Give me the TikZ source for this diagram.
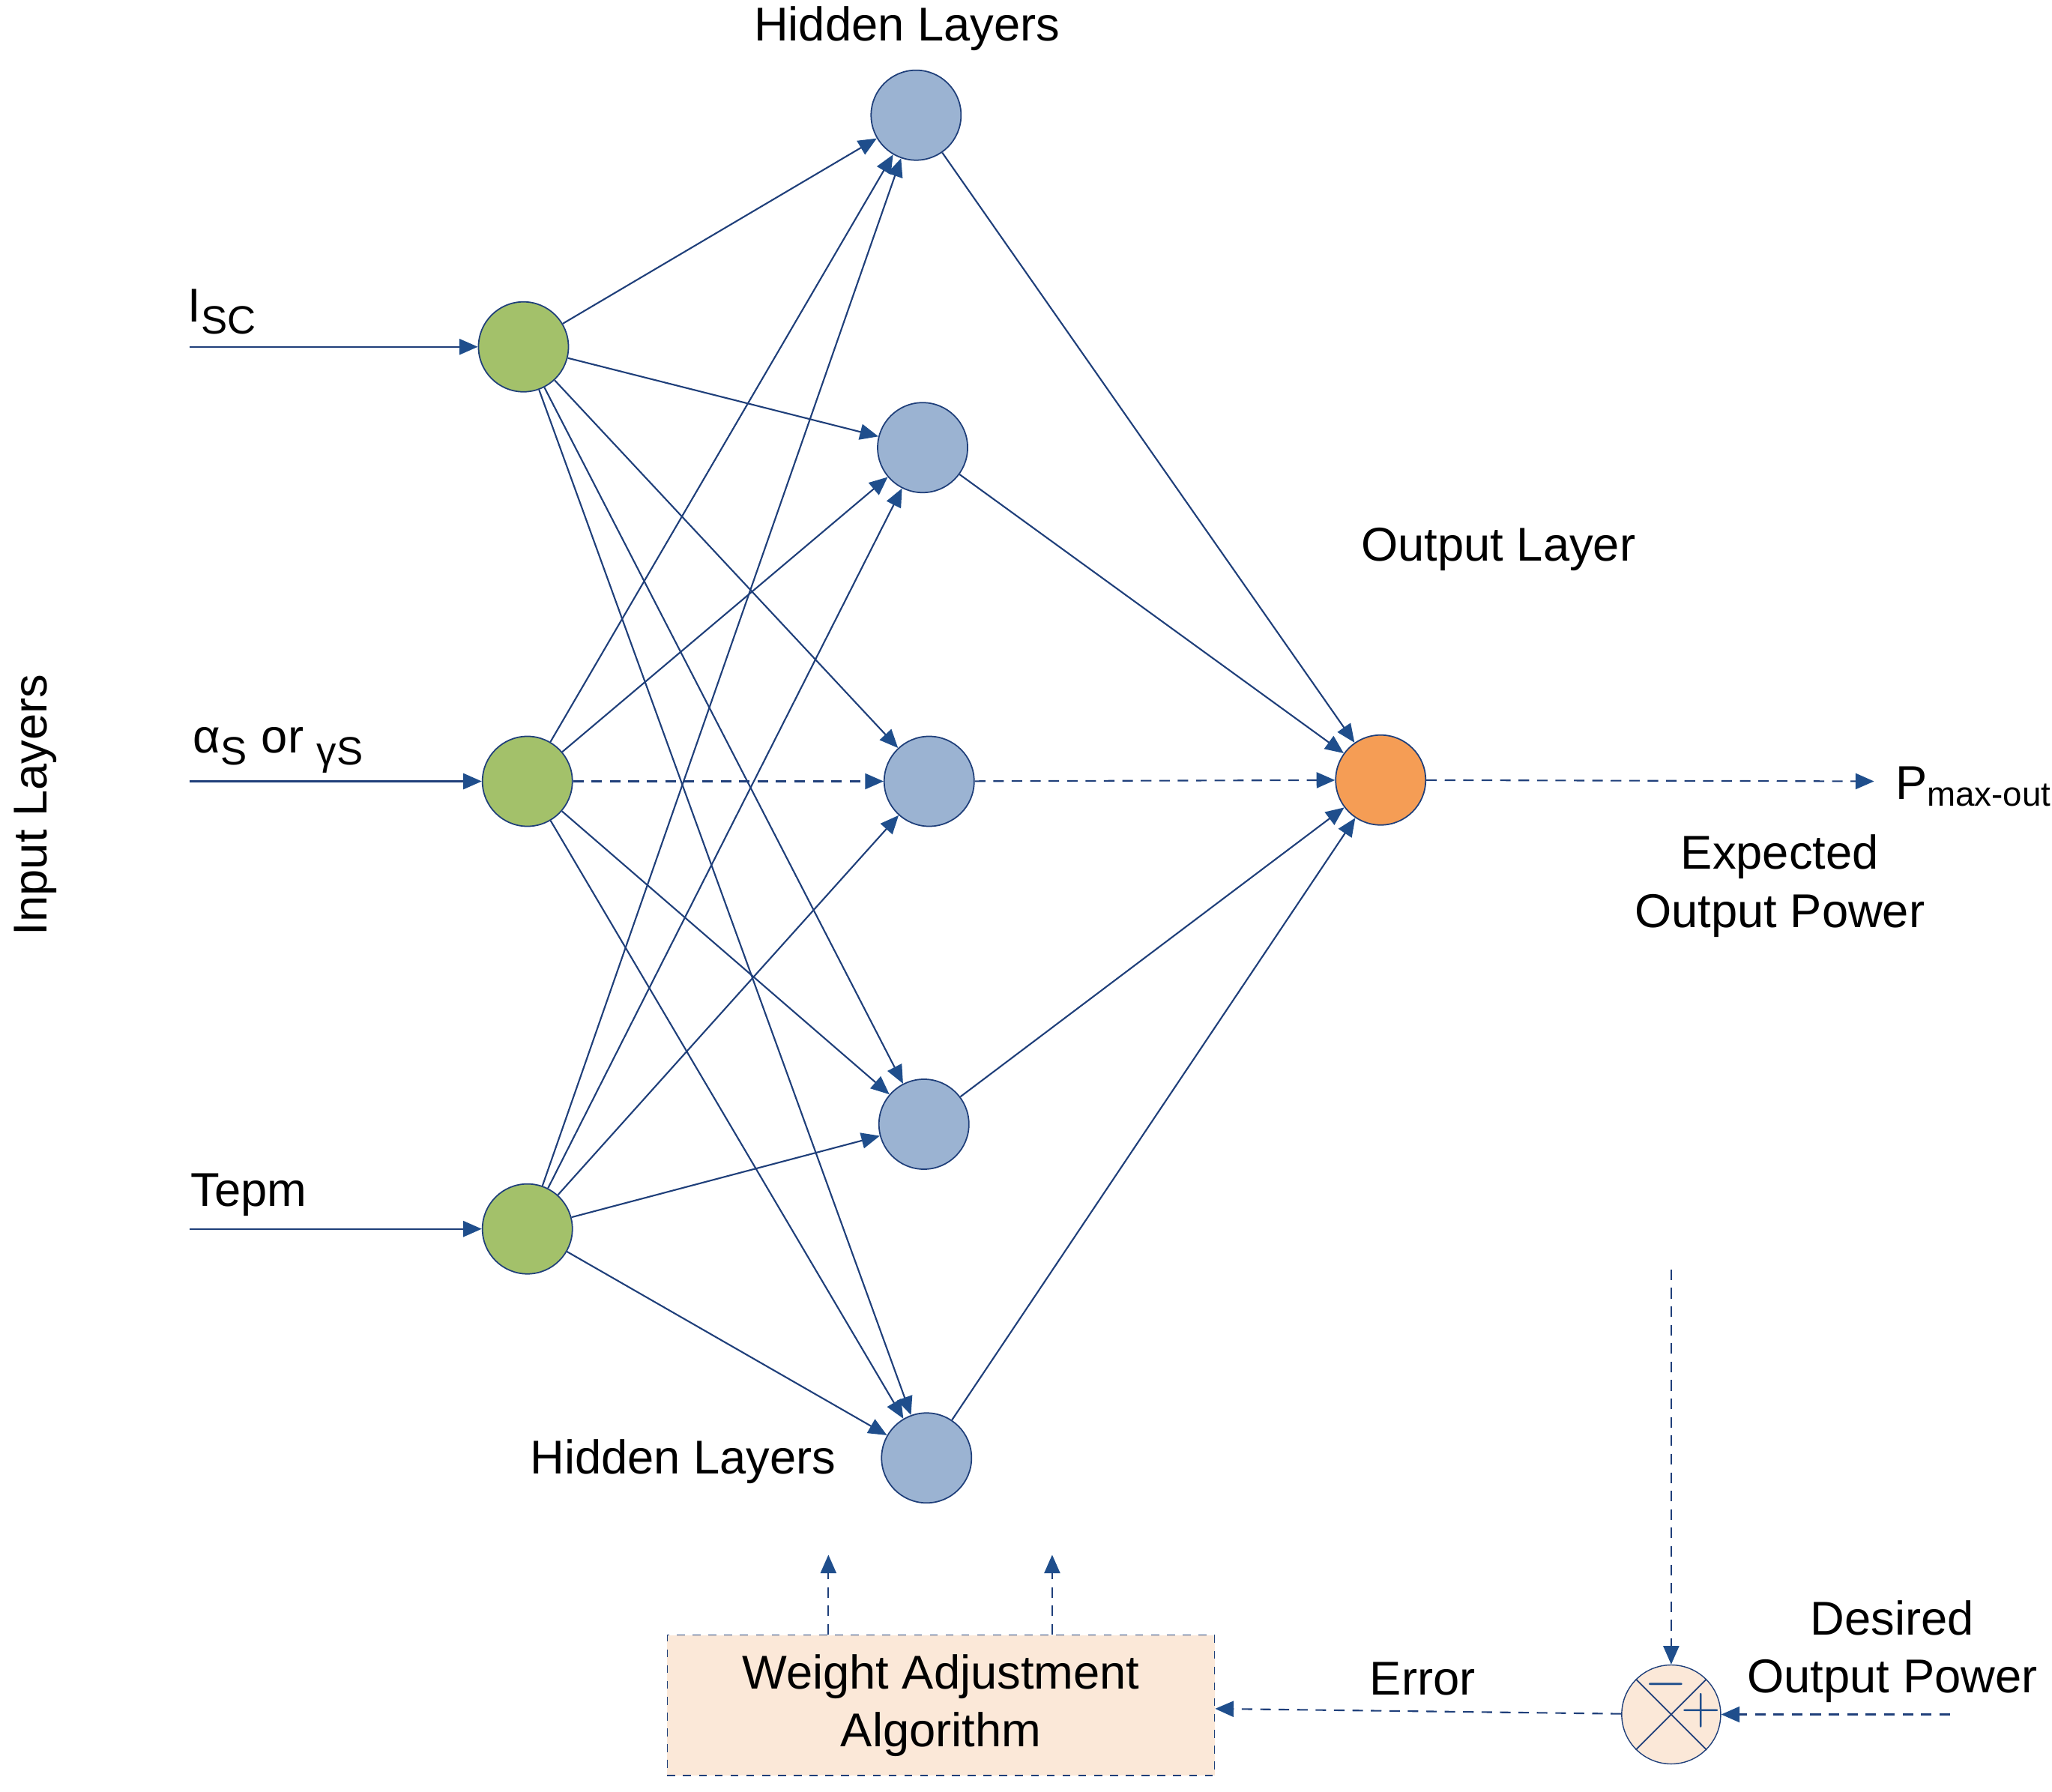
\documentclass[tikz,border=0pt]{standalone}
\usepackage{fontspec}
\setmainfont{Liberation Sans}
\usetikzlibrary{arrows.meta}
\definecolor{ln}{HTML}{1F3F7A}
\definecolor{tip}{HTML}{1F4E8C}
\definecolor{grn}{HTML}{A3C16A}
\definecolor{blu}{HTML}{9BB3D2}
\definecolor{org}{HTML}{F59D55}
\definecolor{pch}{HTML}{FBE8D8}
\begin{document}
\begin{tikzpicture}[x=0.017462cm,y=-0.017462cm,
  every node/.style={font=\fontsize{18}{22}\selectfont},
  neu/.style={circle,draw=ln,line width=0.5pt,minimum size=1.2cm,inner sep=0pt},
  con/.style={draw=ln,line width=0.6pt,-{Triangle[length=7pt,width=6pt,color=tip]}},
  dcon/.style={con,dashed,dash pattern=on 4pt off 3pt},
  lab/.style={inner sep=0pt,align=center}]
\useasboundingbox (0,0) rectangle (1568,1369);
\node[neu,fill=grn] (I1) at (400,265) {};
\node[neu,fill=grn] (I2) at (403,597) {};
\node[neu,fill=grn] (I3) at (403,939) {};
\node[neu,fill=blu] (H1) at (700,88) {};
\node[neu,fill=blu] (H2) at (705,342) {};
\node[neu,fill=blu] (H3) at (710,597) {};
\node[neu,fill=blu] (H4) at (706,859) {};
\node[neu,fill=blu] (H5) at (708,1114) {};
\node[neu,fill=org] (O) at (1055,596) {};
\node[circle,draw=ln,fill=pch,minimum size=1.32cm,inner sep=0pt] (S) at (1277,1310) {};
\draw[ln,line width=0.5pt] (S.north west)--(S.south east) (S.north east)--(S.south west);
\node[text=tip,font=\bfseries\fontsize{20}{22}\selectfont] at (1273,1287) {$\mathbf{-}$};
\node[text=tip,font=\bfseries\fontsize{20}{22}\selectfont] at (1300,1307) {$\mathbf{+}$};
\node[draw=ln,dashed,fill=pch,minimum width=7.3cm,minimum height=1.87cm,lab] (B) at (719,1303) {Weight Adjustment\\Algorithm};
\coordinate (a1) at (145,265); \coordinate (a2) at (145,597); \coordinate (a3) at (145,939);
\draw[con] (a1)--(I1); \draw[con] (a2)--(I2); \draw[con] (a3)--(I3);
\foreach \i in {I1,I3}{\foreach \h in {H1,H2,H3,H4,H5}{\draw[con] (\i)--(\h);}}
\foreach \h in {H1,H2,H4,H5}{\draw[con] (I2)--(\h); \draw[con] (\h)--(O);}
\draw[dcon] (I2)--(H3); \draw[dcon] (H3)--(O);
\coordinate (pe) at (1432,597);
\draw[dcon] (O)--(pe);
\node[lab,anchor=west] at (1448,601) {P\textsubscript{\fontsize{13}{13}\selectfont max-out}};
\coordinate (dv) at (1277,970); \draw[dcon] (dv)--(S);
\coordinate (dr) at (1490,1310); \draw[dcon] (dr)--(S);
\draw[dcon] (S)--(B);
\coordinate (u1) at (633,1188); \coordinate (u2) at (804,1188);
\draw[dcon] (B.north -| u1)--(u1); \draw[dcon] (B.north -| u2)--(u2);
\node[lab] at (170,238) {I\textsubscript{\fontsize{15}{15}\selectfont SC}};
\node[lab] at (213,573) {α\textsubscript{\fontsize{15}{15}\selectfont S} or \textsubscript{\fontsize{15}{15}\selectfont γS}};
\node[lab] at (190,913) {Tepm};
\node[lab,rotate=90] at (27,615) {Input Layers};
\node[lab] at (693,22) {Hidden Layers};
\node[lab] at (522,1117) {Hidden Layers};
\node[lab] at (1145,420) {Output Layer};
\node[lab] at (1360,677) {Expected\\Output Power};
\node[lab] at (1446,1262) {Desired\\Output Power};
\node[lab] at (1087,1283) {Error};
\end{tikzpicture}
\end{document}
